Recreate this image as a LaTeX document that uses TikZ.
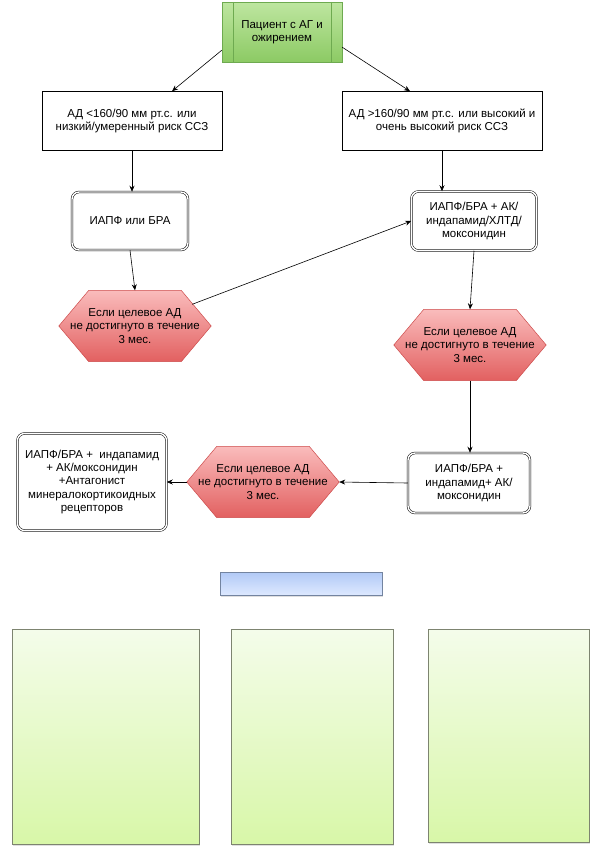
\documentclass[tikz,border=0pt]{standalone}
\usepackage{fontspec}
\setmainfont{Liberation Sans}
\usetikzlibrary{arrows.meta,calc,backgrounds,shadows}
\definecolor{PatTop}{RGB}{190,230,160}
\definecolor{PatBot}{RGB}{140,202,100}
\definecolor{PatClr}{RGB}{110,170,80}
\definecolor{HexTop}{RGB}{250,188,188}
\definecolor{HexBot}{RGB}{226,96,96}
\definecolor{HexClr}{RGB}{205,75,75}
\definecolor{BarTop}{RGB}{178,202,246}
\definecolor{BarBot}{RGB}{222,233,255}
\definecolor{BarClr}{RGB}{115,132,160}
\definecolor{PadTop}{RGB}{244,252,234}
\definecolor{PadBot}{RGB}{216,247,168}
\definecolor{PadClr}{RGB}{125,132,112}

\begin{document}
\begin{tikzpicture}[x=1pt,y=-1pt,
  every node/.style={font=\fontsize{11.5}{13.3}\selectfont,align=center,inner sep=0pt},
  patbox/.style={draw=PatClr,top color=PatTop,bottom color=PatBot,minimum width=120pt,minimum height=60pt},
  riskbox/.style={draw,line width=.6pt,minimum width=180pt,minimum height=59pt},
  drugbox/.style={draw,double,double distance=1.4pt,line width=.5pt,rounded corners=7pt},
  hexbox/.style={minimum width=152pt,minimum height=71pt},
  hexfill/.style={top color=HexTop,bottom color=HexBot,draw=HexClr,line width=.5pt},
  padbox/.style={draw=PadClr,top color=PadTop,bottom color=PadBot,drop shadow={opacity=.25,shadow xshift=1pt,shadow yshift=-1pt}},
  arr/.style={-{Stealth[length=6pt,width=5pt]},line width=.6pt}]
\useasboundingbox (0,0) rectangle (593,855);

\node[patbox] (pat) at (282,32) {Пациент с АГ и\\ожирением};
\draw[PatClr] ([xshift=11pt]pat.north west) -- ([xshift=11pt]pat.south west);
\draw[PatClr] ([xshift=-11pt]pat.north east) -- ([xshift=-11pt]pat.south east);

\node[riskbox] (lowrisk) at (132,121) {АД <160/90 мм рт.с. или\\низкий/умеренный риск ССЗ};
\node[riskbox,minimum width=200pt] (highrisk) at (442,121) {АД >160/90 мм рт.с. или высокий и\\очень высокий риск ССЗ};

\node[drugbox,minimum width=116pt,minimum height=58pt] (mono) at (130,221) {ИАПФ или БРА};
\node[drugbox,minimum width=125pt,minimum height=59pt] (dual) at (474,221) {ИАПФ/БРА + АК/\\индапамид/ХЛТД/\\моксонидин};
\node[drugbox,minimum width=122pt,minimum height=60pt] (triple) at (469,483) {ИАПФ/БРА +\\индапамид+ АК/\\моксонидин};
\node[drugbox,minimum width=149pt,minimum height=97pt] (quad) at (92,482) {ИАПФ/БРА +\ \ индапамид\\+ АК/моксонидин\\+Антагонист\\минералокортикоидных\\рецепторов};

\node[hexbox] (lhex) at (135,326) {Если целевое АД\\не достигнуто в течение\\3 мес.};
\node[hexbox] (rhex) at (470,345) {Если целевое АД\\не достигнуто в течение\\3 мес.};
\node[hexbox] (mhex) at (263,482) {Если целевое АД\\не достигнуто в течение\\3 мес.};

\begin{scope}[on background layer]
\foreach \h in {lhex,rhex,mhex}
  \shadedraw[hexfill] ([xshift=30pt]\h.north west) -- ([xshift=-30pt]\h.north east) -- (\h.east)
    -- ([xshift=-30pt]\h.south east) -- ([xshift=30pt]\h.south west) -- (\h.west) -- cycle;
\end{scope}

\draw[arr] ([yshift=12pt]pat.south west) -- ([xshift=40pt]lowrisk.north);
\draw[arr] ([yshift=15pt]pat.south east) -- ([xshift=-32pt]highrisk.north);
\draw[arr] (lowrisk.south) -- (lowrisk.south |- mono.north);
\draw[arr] (highrisk.south) -- (highrisk.south |- dual.north);
\draw[arr] (mono.south) -- (lhex.north);
\draw[arr] ([xshift=-19pt,yshift=-14pt]lhex.north east) -- (dual.west);
\draw[arr] (dual.south) -- (rhex.north);
\draw[arr] (rhex.south) -- (rhex.south |- triple.north);
\draw[arr] (triple.west) -- (mhex.east);
\draw[arr] (mhex.west) -- (quad.east);

\node[draw=BarClr,top color=BarTop,bottom color=BarBot,minimum width=162pt,minimum height=23pt,
  drop shadow={opacity=.25,shadow xshift=1pt,shadow yshift=-1pt}] (bar) at (301,584) {};

\node[padbox,minimum width=187pt,minimum height=215pt] (padA) at (105.5,737) {};
\node[padbox,minimum width=162pt,minimum height=215pt] (padB) at (312,737) {};
\node[padbox,minimum width=161pt,minimum height=213pt] (padC) at (508.5,736) {};
\end{tikzpicture}
\end{document}
